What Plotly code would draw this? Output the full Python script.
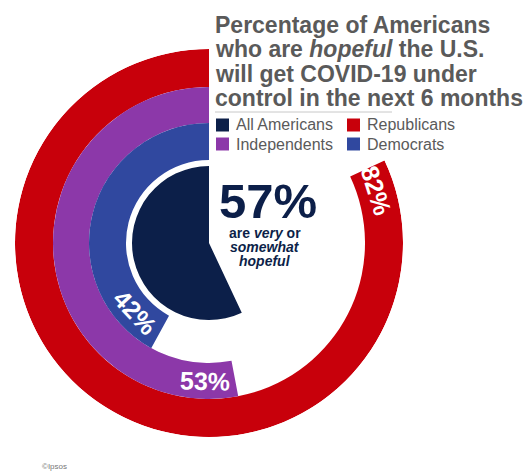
import plotly.graph_objects as go
import math

# ---- data ----
groups = ["All Americans", "Republicans", "Independents", "Democrats"]
values = [57, 82, 53, 42]  # percent hopeful
colors = ["#0C1F49", "#C8000B", "#8C38A9", "#30489F"]
label_text = ["57%", "82%", "53%", "42%"]
title_lines = ["Percentage of Americans", "who are <i>hopeful</i> the U.S.",
               "will get COVID-19 under", "control in the next 6 months"]

# ---- geometry (styles) ----
W, H = 531, 476
cx, cy, R = 209, 243, 194          # pixel center and outer radius
rings = {  # inner, outer radius in px (radial axis units)
    "All Americans": (0, 77),
    "Republicans": (156, 194),
    "Independents": (120, 156),
    "Democrats": (83, 120),
}

fig = go.Figure()
for g, v, c in zip(groups, values, colors):
    inner, outer = rings[g]
    fig.add_trace(go.Barpolar(
        r=[outer - inner], base=[inner], theta=[v * 3.6 / 2], width=[v * 3.6],
        marker=dict(color=c, line=dict(width=0)), name=g, showlegend=False,
        hoverinfo="skip"))

fig.update_layout(
    width=W, height=H, margin=dict(l=0, r=0, t=0, b=0),
    paper_bgcolor="white", plot_bgcolor="white",
    polar=dict(
        domain=dict(x=[(cx - R) / W, (cx + R) / W], y=[(H - cy - R) / H, (H - cy + R) / H]),
        bgcolor="white", hole=0,
        radialaxis=dict(visible=False, range=[0, R]),
        angularaxis=dict(visible=False, rotation=90, direction="counterclockwise"),
        bargap=0),
    font=dict(family="Liberation Sans, Arial, sans-serif"),
)

def px(x, y):
    return x / W, 1 - y / H

FONT = "Liberation Sans, Arial"
ann = []
def add_text(x, y, text, size, color, xanchor="center", angle=0):
    X, Y = px(x, y)
    ann.append(dict(x=X, y=Y, xref="paper", yref="paper", text=text, showarrow=False,
                    xanchor=xanchor, yanchor="middle", textangle=angle,
                    font=dict(size=size, color=color, family=FONT)))

# ring labels (angle from top, counterclockwise, in degrees)
label_pos = {"Republicans": 287.5, "Independents": 178.5, "Democrats": 133}
for g, t in zip(groups, label_text):
    if g not in label_pos:
        continue
    inner, outer = rings[g]
    rr = (inner + outer) / 2
    a = math.radians(label_pos[g])
    x = cx - rr * math.sin(a)
    y = cy - rr * math.cos(a)
    tang = (360 - label_pos[g]) % 180
    if tang > 90:
        tang -= 180
    add_text(x, y, "<b>%s</b>" % t, 25, "white", angle=tang)

# center text
add_text(268, 201, "<b>%s</b>" % label_text[0], 49, "#0C1F49")
for txt, yy in [("<b>are <i>very</i> or</b>", 233), ("<b><i>somewhat</i></b>", 247), ("<b><i>hopeful</i></b>", 261)]:
    add_text(265, yy, txt, 14, "#0C1F49")

# title
for i, line in enumerate(title_lines):
    add_text(213, 25 + i * 24.5, "<b>%s</b>" % line, 23, "#5A5A5A", xanchor="left")

shapes = []
# separator
x0, y0 = px(215, 112)
x1, _ = px(392, 112)
shapes.append(dict(type="line", xref="paper", yref="paper", x0=x0, x1=x1, y0=y0, y1=y0,
                   line=dict(color="#C8C8C8", width=1)))

# legend
leg_pos = {"All Americans": (216, 125), "Republicans": (347, 125),
           "Independents": (216, 144), "Democrats": (347, 144)}
for g, c in zip(groups, colors):
    lx, ly = leg_pos[g]
    a0, b0 = px(lx, ly - 6.5)
    a1, b1 = px(lx + 13, ly + 6.5)
    shapes.append(dict(type="rect", xref="paper", yref="paper", x0=a0, x1=a1, y0=b1, y1=b0,
                       fillcolor=c, line=dict(width=0)))
    add_text(lx + 18, ly, g, 16, "#5A5A5A", xanchor="left")

add_text(40, 466, "©Ipsos", 8, "#777777", xanchor="left")

fig.update_layout(annotations=ann, shapes=shapes)
fig.write_html("out.html")
